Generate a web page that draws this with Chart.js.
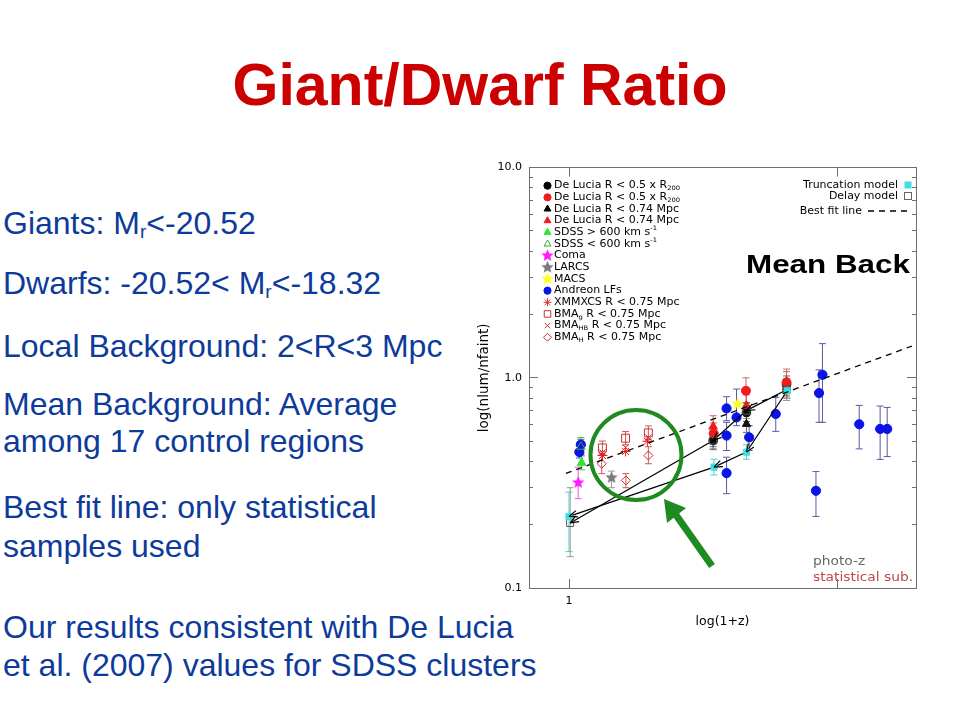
<!DOCTYPE html>
<html><head><meta charset="utf-8">
<script src="https://cdn.jsdelivr.net/npm/chart.js@4"></script>
<style>
body{margin:0;width:960px;height:720px;background:#fff;position:relative;overflow:hidden;font-family:"Liberation Sans",Arial,sans-serif;}
.t{position:absolute;left:3px;color:#0d3b9a;font-size:32px;line-height:1;white-space:nowrap;}
.t sub{font-size:0.6em;vertical-align:-0.22em;line-height:0}
#title{position:absolute;left:0;width:960px;top:56px;text-align:center;color:#cc0000;font-weight:bold;font-size:59px;line-height:1;white-space:nowrap}
#wrap{position:absolute;left:460px;top:150px;width:470px;height:490px}
#ann{position:absolute;left:0;top:0;pointer-events:none}
</style></head>
<body>
<div id="title">Giant/Dwarf Ratio</div>
<div class="t" style="top:207.4px">Giants: M<sub>r</sub>&lt;-20.52</div>
<div class="t" style="top:266.9px">Dwarfs: -20.52&lt; M<sub>r</sub>&lt;-18.32</div>
<div class="t" style="top:330.4px">Local Background: 2&lt;R&lt;3 Mpc</div>
<div class="t" style="top:388px">Mean Background: Average</div>
<div class="t" style="top:425px">among 17 control regions</div>
<div class="t" style="top:491px">Best fit line: only statistical</div>
<div class="t" style="top:530px">samples used</div>
<div class="t" style="top:610.5px">Our results consistent with De Lucia</div>
<div class="t" style="top:648.5px">et al. (2007) values for SDSS clusters</div>
<div id="wrap"><canvas id="c" width="470" height="490"></canvas></div>
<svg id="ann" width="960" height="720">
  <ellipse cx="636" cy="455" rx="45.5" ry="45" fill="none" stroke="#1f8a1f" stroke-width="4"/>
  <line x1="712" y1="566" x2="676" y2="515" stroke="#1f8a1f" stroke-width="7"/>
  <polygon points="664,499 686,508 667,523" fill="#1f8a1f"/>
</svg>
<script>
// ---- axis ticks ----
const zTicks = [1, 2];
const zTickLabels = ['1', ''];
const ratioMinorTicks = [0.1,0.2,0.3,0.4,0.5,0.6,0.7,0.8,0.9,1,2,3,4,5,6,7,8,9,10];
const ratioMajorTicks = [0.1, 1, 10];
const ratioMajorLabels = ['0.1', '1.0', '10.0'];
const zMin = 0.902, zMax = 2.446;

// ---- data: x = 1+z, y = nlum/nfaint ----
const andreonZ     = [1.922,1.905,2.113,2.230,2.271,1.890,1.704,1.501,1.540,1.591,1.501,1.501,1.027,1.031];
const andreonRatio = [1.033,0.846,0.601,0.571,0.571,0.290,0.673,0.715,0.648,0.521,0.531,0.352,0.443,0.481];
const andreonLo    = [0.614,0.614,0.459,0.409,0.422,0.219,0.556,0.625,0.592,0.451,0.451,0.281,0.415,0.455];
const andreonHi    = [1.454,1.091,0.739,0.734,0.723,0.358,0.807,0.813,0.884,0.592,0.614,0.419,0.475,0.510];

const dlCircBlackZ = [1.450,1.580,1.752];
const dlCircBlackR = [0.503,0.683,0.927];
const dlCircBlackLo = [0.455,0.620,0.840];
const dlCircBlackHi = [0.560,0.760,1.020];

const dlCircRedZ = [1.452,1.578,1.752];
const dlCircRedR = [0.543,0.868,0.950];
const dlCircRedLo = [0.490,0.760,0.800];
const dlCircRedHi = [0.610,1.000,1.100];

const dlTriBlackZ = [1.450,1.580,1.752];
const dlTriBlackR = [0.520,0.603,0.900];
const dlTriBlackLo = [0.470,0.550,0.820];
const dlTriBlackHi = [0.580,0.660,0.990];

const dlTriRedZ = [1.450,1.580,1.752];
const dlTriRedR = [0.586,0.737,0.960];
const dlTriRedLo = [0.520,0.660,0.860];
const dlTriRedHi = [0.660,0.830,1.070];

const sdssHiZ = [1.033], sdssHiR = [0.394], sdssHiLo = [0.365], sdssHiHi = [0.425];
const sdssLoZ = [1.031], sdssLoR = [0.470], sdssLoLo = [0.430], sdssLoHi = [0.520];
const comaZ = [1.024], comaR = [0.317], comaLo = [0.266], comaHi = [0.376];
const larcsZ = [1.116], larcsR = [0.335], larcsLo = [0.300], larcsHi = [0.360];
const macsZ = [1.544], macsR = [0.750];

const xmmZ = [1.090,1.157,1.224];
const xmmR = [0.427,0.446,0.499];
const bmaGZ = [1.090,1.157,1.227];
const bmaGR = [0.464,0.516,0.547];
const bmaGLo = [0.430,0.480,0.510];
const bmaGHi = [0.500,0.555,0.590];
const bmaHBZ = [1.090,1.157,1.227];
const bmaHBR = [0.441,0.466,0.520];
const bmaHZ = [1.088,1.158,1.227];
const bmaHR = [0.390,0.325,0.427];
const bmaHLo = [0.350,0.300,0.390];
const bmaHHi = [0.435,0.350,0.470];

const truncZ = [1.755,1.580,1.453,1.000];
const truncR = [0.868,0.443,0.376,0.219];
const truncLo = [0.800,0.410,0.345,0.149];
const truncHi = [0.940,0.480,0.410,0.286];
const delayZ = [1.752,1.580,1.450,1.003];
const delayR = [0.877,0.698,0.503,0.204];
const delayLo = [0.780,0.640,0.460,0.141];
const delayHi = [0.980,0.760,0.550,0.300];

const fitZ = [0.992, 2.42];
const fitR = [0.351, 1.416];

const legendLabels = [
  ['De Lucia R < 0.5 x R', ['200','sub']],
  ['De Lucia R < 0.5 x R', ['200','sub']],
  ['De Lucia R < 0.74 Mpc'],
  ['De Lucia R < 0.74 Mpc'],
  ['SDSS > 600 km s', ['-1','sup']],
  ['SDSS < 600 km s', ['-1','sup']],
  ['Coma'],
  ['LARCS'],
  ['MACS'],
  ['Andreon LFs'],
  ['XMMXCS R < 0.75 Mpc'],
  ['BMA', ['g','sub'], ' R < 0.75 Mpc'],
  ['BMA', ['HB','sub'], ' R < 0.75 Mpc'],
  ['BMA', ['H','sub'], ' R < 0.75 Mpc']
];
const modelLegend = ['Truncation model', 'Delay model', 'Best fit line'];
const cornerNotes = ['photo-z', 'statistical sub.'];
const panelLabel = 'Mean Back';

// ---- helpers ----
const pts = (xs, ys) => xs.map((x, i) => ({x, y: ys[i]}));
function starImage(color, r) {
  const c = document.createElement('canvas');
  const s = Math.ceil(r * 2 + 2); c.width = c.height = s;
  const g = c.getContext('2d'); g.fillStyle = color; g.beginPath();
  for (let k = 0; k < 10; k++) {
    const rr = k % 2 ? r * 0.45 : r; const a = -Math.PI / 2 + k * Math.PI / 5;
    g.lineTo(s / 2 + rr * Math.cos(a), s / 2 + rr * Math.sin(a));
  }
  g.closePath(); g.fill(); return c;
}
const starMag = starImage('#ff1aff', 6.5), starGray = starImage('#7a7a7a', 6.5), starYel = starImage('#ffff22', 6.5);

const BLUE = '#0a14e6', RED = '#ee1c1c', CYAN = '#3ee0e0', GREEN = '#2ee62e', BMA = '#c83232';

function pointDs(label, xs, ys, style, color, radius, opts) {
  return Object.assign({
    label, data: pts(xs, ys), pointStyle: style, pointRadius: radius,
    pointBackgroundColor: color, pointBorderColor: color, pointBorderWidth: 1,
    showLine: false, order: 2
  }, opts || {});
}

const datasets = [
  {label: 'Best fit line', data: pts(fitZ, fitR), showLine: true, borderColor: '#000', borderWidth: 1.3,
   borderDash: [6, 5], pointRadius: 0, order: 0},
  pointDs('Truncation model', truncZ, truncR, 'rect', CYAN, 4.3,
    {showLine: true, borderColor: '#000', borderWidth: 1.2, arrows: true, errLo: truncLo, errHi: truncHi, errColor: '#55cccc', order: 0}),
  pointDs('Delay model', delayZ, delayR, 'rect', 'rgba(0,0,0,0)', 5,
    {pointBorderColor: '#555', showLine: true, borderColor: '#000', borderWidth: 1.2, arrows: true, errLo: delayLo, errHi: delayHi, errColor: '#999', order: 0}),
  pointDs('MACS', macsZ, macsR, starYel, '#ffff22', 6),
  pointDs('De Lucia R<0.5 R200 (red)', dlCircRedZ, dlCircRedR, 'circle', RED, 4.5, {errLo: dlCircRedLo, errHi: dlCircRedHi, errColor: '#d06060'}),
  pointDs('De Lucia R<0.74 (red)', dlTriRedZ, dlTriRedR, 'triangle', RED, 5, {errLo: dlTriRedLo, errHi: dlTriRedHi, errColor: '#d06060'}),
  pointDs('De Lucia R<0.5 R200', dlCircBlackZ, dlCircBlackR, 'circle', '#111', 4.3, {errLo: dlCircBlackLo, errHi: dlCircBlackHi, errColor: '#666'}),
  pointDs('De Lucia R<0.74', dlTriBlackZ, dlTriBlackR, 'triangle', '#111', 4.8, {errLo: dlTriBlackLo, errHi: dlTriBlackHi, errColor: '#666'}),
  pointDs('Andreon LFs', andreonZ, andreonRatio, 'circle', BLUE, 4.6, {errLo: andreonLo, errHi: andreonHi, errColor: '#5a5aa6', order: 3}),
  pointDs('SDSS > 600', sdssHiZ, sdssHiR, 'triangle', GREEN, 5, {errLo: sdssHiLo, errHi: sdssHiHi, errColor: '#4c4'}),
  pointDs('SDSS < 600', sdssLoZ, sdssLoR, 'triangle', 'rgba(0,0,0,0)', 5, {pointBorderColor: '#3a3', errLo: sdssLoLo, errHi: sdssLoHi, errColor: '#4c4'}),
  pointDs('Coma', comaZ, comaR, starMag, '#ff1aff', 6, {errLo: comaLo, errHi: comaHi, errColor: '#e05ae0'}),
  pointDs('LARCS', larcsZ, larcsR, starGray, '#7a7a7a', 6, {errLo: larcsLo, errHi: larcsHi, errColor: '#999'}),
  pointDs('XMMXCS', xmmZ, xmmR, 'star', RED, 5, {pointBorderWidth: 1}),
  pointDs('BMA g', bmaGZ, bmaGR, 'rect', 'rgba(0,0,0,0)', 5.6, {pointBorderColor: BMA, errLo: bmaGLo, errHi: bmaGHi, errColor: '#c85a5a'}),
  pointDs('BMA HB', bmaHBZ, bmaHBR, 'crossRot', BMA, 4.5, {pointBorderColor: BMA}),
  pointDs('BMA H', bmaHZ, bmaHR, 'rectRot', 'rgba(0,0,0,0)', 4.5, {pointBorderColor: BMA, errLo: bmaHLo, errHi: bmaHHi, errColor: '#c85a5a'})
];

const errorBarPlugin = {
  id: 'errorBars',
  beforeDatasetsDraw(chart) {
    const {ctx, scales: {x, y}} = chart;
    ctx.save(); ctx.lineWidth = 1;
    chart.data.datasets.forEach(d => {
      if (!d.errLo) return;
      ctx.strokeStyle = d.errColor;
      d.data.forEach((p, j) => {
        const px = x.getPixelForValue(p.x);
        const yl = y.getPixelForValue(d.errLo[j]), yh = y.getPixelForValue(d.errHi[j]);
        ctx.beginPath();
        ctx.moveTo(px, yl); ctx.lineTo(px, yh);
        ctx.moveTo(px - 3.5, yl); ctx.lineTo(px + 3.5, yl);
        ctx.moveTo(px - 3.5, yh); ctx.lineTo(px + 3.5, yh);
        ctx.stroke();
      });
    });
    ctx.restore();
  }
};

const arrowPlugin = {
  id: 'arrows',
  afterDatasetsDraw(chart) {
    const ctx = chart.ctx;
    chart.data.datasets.forEach((d, i) => {
      if (!d.arrows) return;
      const el = chart.getDatasetMeta(i).data;
      ctx.save(); ctx.strokeStyle = '#000'; ctx.lineWidth = 1.2;
      for (let j = 1; j < el.length; j++) {
        const a = el[j - 1], b = el[j];
        const ang = Math.atan2(b.y - a.y, b.x - a.x), L = 9;
        ctx.beginPath();
        for (const s of [-1, 1]) {
          ctx.moveTo(b.x, b.y);
          ctx.lineTo(b.x - L * Math.cos(ang + s * 0.38), b.y - L * Math.sin(ang + s * 0.38));
        }
        ctx.stroke();
      }
      ctx.restore();
    });
  }
};

function drawRich(ctx, x, y, parts, size, sx, align) {
  ctx.save();
  let total = 0;
  const segs = parts.map(p => {
    const [t, k] = typeof p === 'string' ? [p, ''] : p;
    const fs = k ? size * 0.62 : size;
    ctx.font = fs + 'px "DejaVu Sans"';
    const w = ctx.measureText(t).width; total += w;
    return {t, k, fs, w};
  });
  ctx.translate(x, y); ctx.scale(sx, 1);
  let cx = align === 'right' ? -total : 0;
  ctx.textBaseline = 'middle'; ctx.textAlign = 'left';
  for (const s of segs) {
    ctx.font = s.fs + 'px "DejaVu Sans"';
    const dy = s.k === 'sub' ? size * 0.32 : s.k === 'sup' ? -size * 0.35 : 0;
    ctx.fillText(s.t, cx, dy); cx += s.w;
  }
  ctx.restore();
}

const legendSymbols = [
  ['circle', '#000', '#000', 3.6], ['circle', RED, RED, 3.6],
  ['triangle', '#000', '#000', 4], ['triangle', RED, RED, 4],
  ['triangle', GREEN, GREEN, 4], ['triangle', 'rgba(0,0,0,0)', '#3a3', 4],
  [starMag, '#f0f', '#f0f', 5], [starGray, '#777', '#777', 5], [starYel, '#ff2', '#ff2', 5],
  ['circle', BLUE, BLUE, 3.6], ['star', RED, '#d33', 4],
  ['rect', 'rgba(0,0,0,0)', BMA, 4.6], ['crossRot', BMA, BMA, 3.8], ['rectRot', 'rgba(0,0,0,0)', BMA, 4]
];

const textPlugin = {
  id: 'panelText',
  afterDraw(chart) {
    const ctx = chart.ctx;
    const H = Chart.helpers;
    ctx.save();
    ctx.fillStyle = '#000';
    legendLabels.forEach((lab, i) => {
      const y = 35.7 + 11.66 * i;
      const [style, fill, stroke, r] = legendSymbols[i];
      ctx.fillStyle = fill; ctx.strokeStyle = stroke; ctx.lineWidth = 1;
      H.drawPoint(ctx, {pointStyle: style, radius: r, rotation: 0, borderWidth: 1}, 87.5, y);
      ctx.fillStyle = '#000';
      drawRich(ctx, 94, y, lab, 9.8, 1.12, 'left');
    });
    // model legend
    const ys = [35, 46, 61];
    modelLegend.forEach((t, i) => drawRich(ctx, i === 2 ? 402 : 438, ys[i], [t], 9.8, 1.12, 'right'));
    ctx.fillStyle = CYAN; ctx.fillRect(444.5, 31.5, 7, 7);
    ctx.strokeStyle = '#666'; ctx.lineWidth = 1; ctx.strokeRect(444.5, 42.5, 7, 7);
    ctx.strokeStyle = '#000'; ctx.lineWidth = 1.3; ctx.setLineDash([6, 5]);
    ctx.beginPath(); ctx.moveTo(408, 61); ctx.lineTo(449, 61); ctx.stroke(); ctx.setLineDash([]);
    // Mean Back
    ctx.save(); ctx.translate(286, 123.3); ctx.scale(1.23, 1);
    ctx.font = 'bold 25.5px "Liberation Sans"'; ctx.fillStyle = '#000'; ctx.textBaseline = 'alphabetic';
    ctx.fillText(panelLabel, 0, 0); ctx.restore();
    // corner notes
    ctx.fillStyle = '#666'; drawRich(ctx, 353, 412, [cornerNotes[0]], 11.5, 1.2, 'left');
    ctx.fillStyle = '#c04848'; drawRich(ctx, 353, 428, [cornerNotes[1]], 11.5, 1.2, 'left');
    ctx.restore();
  }
};

const AX = '#707070';
const tickFont = {family: 'DejaVu Sans', size: 11};
const setTicks = arr => s => { s.ticks = arr.map(v => ({value: v})); };

new Chart(document.getElementById('c'), {
  type: 'scatter',
  data: {datasets},
  options: {
    responsive: false, animation: false,
    layout: {padding: {top: 16, right: 14, left: 0, bottom: 0}},
    plugins: {legend: {display: false}, tooltip: {enabled: false}},
    scales: {
      x: {type: 'logarithmic', position: 'bottom', min: zMin, max: zMax,
        afterBuildTicks: setTicks(zTicks), afterFit: s => { s.height = 52; },
        ticks: {callback: (v, i) => zTickLabels[i], autoSkip: false, maxRotation: 0, font: tickFont, color: '#000', padding: 16},
        grid: {drawOnChartArea: false, tickLength: -9, color: AX},
        border: {color: AX, width: 1},
        title: {display: true, text: 'log(1+z)', font: {family: 'DejaVu Sans', size: 12.5}, color: '#000', padding: {top: 0, bottom: 11}}
      },
      x2: {type: 'logarithmic', position: 'top', min: zMin, max: zMax,
        afterBuildTicks: setTicks(zTicks), afterFit: s => { s.height = 0; },
        ticks: {display: false}, grid: {drawOnChartArea: false, tickLength: -9, color: AX}, border: {color: AX, width: 1}
      },
      y: {type: 'logarithmic', position: 'left', min: 0.1, max: 10, weight: 1,
        afterBuildTicks: setTicks(ratioMinorTicks), afterFit: s => { s.width = 69; },
        ticks: {callback: v => { const k = ratioMajorTicks.indexOf(v); return k >= 0 ? ratioMajorLabels[k] : ''; },
          autoSkip: false, font: tickFont, color: '#000', padding: 11},
        grid: {drawOnChartArea: false, tickLength: -4, color: AX},
        border: {color: AX, width: 1},
        title: {display: true, text: 'log(nlum/nfaint)', font: {family: 'DejaVu Sans', size: 13.5}, color: '#000', padding: {top: 16, bottom: 0}}
      },
      yMaj: {type: 'logarithmic', position: 'left', min: 0.1, max: 10, weight: 0,
        afterBuildTicks: setTicks(ratioMajorTicks), afterFit: s => { s.width = 0; },
        ticks: {display: false}, grid: {drawOnChartArea: false, tickLength: -9, color: AX}, border: {color: AX, width: 1}
      },
      y2: {type: 'logarithmic', position: 'right', min: 0.1, max: 10, weight: 1,
        afterBuildTicks: setTicks(ratioMinorTicks), afterFit: s => { s.width = 0; },
        ticks: {display: false}, grid: {drawOnChartArea: false, tickLength: -4, color: AX}, border: {color: AX, width: 1}
      },
      y2Maj: {type: 'logarithmic', position: 'right', min: 0.1, max: 10, weight: 0,
        afterBuildTicks: setTicks(ratioMajorTicks), afterFit: s => { s.width = 0; },
        ticks: {display: false}, grid: {drawOnChartArea: false, tickLength: -9, color: AX}, border: {color: AX, width: 1}
      }
    }
  },
  plugins: [errorBarPlugin, arrowPlugin, textPlugin]
});
</script>
</body></html>
